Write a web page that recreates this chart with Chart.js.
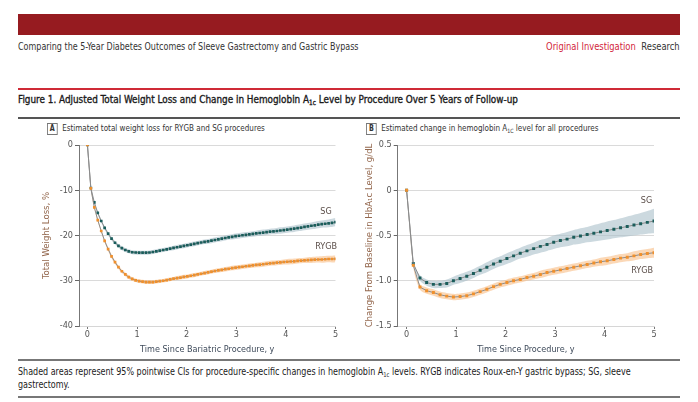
<!DOCTYPE html>
<html><head><meta charset="utf-8">
<script src="https://cdn.jsdelivr.net/npm/chart.js@4.4.1/dist/chart.umd.min.js"></script>
<style>
html,body{margin:0;padding:0;background:#fff;width:698px;height:402px;overflow:hidden;
 font-family:"Liberation Sans Narrow","DejaVu Sans Condensed","Open Sans",sans-serif;}
.abs{position:absolute;white-space:nowrap;}
.sx{transform:scaleX(0.89);transform-origin:0 50%;}
#bar{left:18px;top:14px;width:662px;height:21px;background:#961b20;}
#runhead{left:18px;top:41px;font-size:10px;color:#333;}
#runright{right:18px;top:41px;font-size:10px;color:#333;transform:scaleX(0.93);transform-origin:100% 50%;}
#runright .oi{color:#d21f3c;margin-right:6px;}
#redline{left:18px;top:88px;width:662px;height:2px;background:#cf2a36;}
#figtitle{left:18px;top:93px;font-size:11px;color:#1a1a1a;-webkit-text-stroke:0.35px #1a1a1a;transform:scaleX(0.895);transform-origin:0 50%;}
#darkline{left:18px;top:117px;width:662px;height:2px;background:#555;}
.plab{font-size:9px;color:#333;}
.box{display:inline-block;border:1px solid #777;width:10px;height:10px;line-height:10px;text-align:center;font-weight:bold;font-size:8px;margin-right:5px;}
#foot1{left:18px;top:359px;width:662px;height:2px;background:#777;}
#foottxt{left:18px;top:365px;font-size:10px;color:#222;line-height:13px;}
#foot2{left:18px;top:396px;width:662px;height:2px;background:#777;}
sub{font-size:65%;vertical-align:-2px;line-height:0;}
canvas{position:absolute;}
</style></head>
<body>
<div id="bar" class="abs"></div>
<div id="runhead" class="abs sx">Comparing the 5-Year Diabetes Outcomes of Sleeve Gastrectomy and Gastric Bypass</div>
<div id="runright" class="abs"><span class="oi">Original Investigation</span>Research</div>
<div id="redline" class="abs"></div>
<div id="figtitle" class="abs">Figure 1. Adjusted Total Weight Loss and Change in Hemoglobin A<sub>1c</sub> Level by Procedure Over 5 Years of Follow-up</div>
<div id="darkline" class="abs"></div>
<div class="abs plab sx" style="left:47px;top:123px;"><span class="box">A</span>Estimated total weight loss for RYGB and SG procedures</div>
<div class="abs plab sx" style="left:366px;top:123px;"><span class="box">B</span>Estimated change in hemoglobin A<sub>1C</sub> level for all procedures</div>
<canvas id="cA" width="345" height="225" style="left:0px;top:130px;"></canvas>
<canvas id="cB" width="345" height="225" style="left:350px;top:130px;"></canvas>
<div id="foot1" class="abs"></div>
<div id="foottxt" class="abs sx">Shaded areas represent 95% pointwise CIs for procedure-specific changes in hemoglobin A<sub>1c</sub> levels. RYGB indicates Roux-en-Y gastric bypass; SG, sleeve<br>gastrectomy.</div>
<div id="foot2" class="abs"></div>
<script>
// ---------- data ----------
const xTicks = [0, 1, 2, 3, 4, 5];
const yTicksA = [0, -10, -20, -30, -40];
const yTicksB = [0.5, 0, -0.5, -1, -1.5];
const yTickLabelsB = ['0.5', '0', '-0.5', '-1.0', '-1.5'];
const seriesNames = ['RYGB', 'SG'];

const timesA = [0,0.069,0.139,0.208,0.278,0.347,0.417,0.486,0.556,0.625,0.694,0.764,0.833,0.903,0.972,1.042,1.111,1.181,1.25,1.319,1.389,1.458,1.528,1.597,1.667,1.736,1.806,1.875,1.944,2.014,2.083,2.153,2.222,2.292,2.361,2.431,2.5,2.569,2.639,2.708,2.778,2.847,2.917,2.986,3.056,3.125,3.194,3.264,3.333,3.403,3.472,3.542,3.611,3.681,3.75,3.819,3.889,3.958,4.028,4.097,4.167,4.236,4.306,4.375,4.444,4.514,4.583,4.653,4.722,4.792,4.861,4.931,5];
const weightLossRYGB = [0,-9.6,-13.8,-16.6,-19.0,-21.2,-23.0,-24.6,-25.9,-27.0,-27.9,-28.6,-29.2,-29.6,-29.9,-30.1,-30.2,-30.3,-30.3,-30.3,-30.2,-30.1,-30.0,-29.85,-29.7,-29.55,-29.4,-29.3,-29.15,-29.05,-28.9,-28.75,-28.6,-28.45,-28.3,-28.15,-28.0,-27.85,-27.7,-27.6,-27.45,-27.35,-27.2,-27.1,-27.0,-26.9,-26.8,-26.7,-26.6,-26.5,-26.45,-26.35,-26.25,-26.15,-26.1,-26.0,-25.95,-25.85,-25.8,-25.75,-25.7,-25.6,-25.55,-25.5,-25.45,-25.4,-25.35,-25.3,-25.3,-25.25,-25.2,-25.2,-25.15];
const weightLossSG = [0,-9.5,-12.7,-15.0,-16.8,-18.3,-19.6,-20.7,-21.6,-22.3,-22.8,-23.2,-23.5,-23.7,-23.75,-23.8,-23.8,-23.8,-23.75,-23.65,-23.5,-23.35,-23.2,-23.05,-22.9,-22.75,-22.6,-22.45,-22.3,-22.15,-22.0,-21.85,-21.7,-21.55,-21.4,-21.3,-21.15,-21.0,-20.85,-20.7,-20.55,-20.4,-20.3,-20.15,-20.05,-19.95,-19.85,-19.75,-19.65,-19.55,-19.45,-19.35,-19.25,-19.15,-19.1,-19.0,-18.9,-18.8,-18.7,-18.6,-18.5,-18.35,-18.25,-18.1,-18.0,-17.85,-17.75,-17.6,-17.5,-17.4,-17.3,-17.2,-17.05];
const ciHalfRYGB_A = [0,0.3,0.35,0.35,0.35,0.35,0.4,0.4,0.4,0.4,0.4,0.4,0.4,0.4,0.4,0.4,0.4,0.4,0.4,0.4,0.4,0.4,0.4,0.4,0.4,0.4,0.45,0.45,0.45,0.45,0.45,0.45,0.45,0.45,0.45,0.45,0.45,0.45,0.45,0.45,0.5,0.5,0.5,0.5,0.5,0.5,0.5,0.5,0.5,0.5,0.55,0.55,0.55,0.55,0.55,0.55,0.55,0.55,0.6,0.6,0.6,0.6,0.6,0.6,0.65,0.65,0.65,0.65,0.7,0.7,0.7,0.75,0.75];
const ciHalfSG_A = [0,0.3,0.35,0.35,0.4,0.4,0.4,0.4,0.4,0.4,0.45,0.45,0.45,0.45,0.45,0.45,0.45,0.45,0.45,0.45,0.45,0.45,0.45,0.45,0.45,0.5,0.5,0.5,0.5,0.5,0.5,0.5,0.5,0.5,0.5,0.5,0.55,0.55,0.55,0.55,0.55,0.55,0.6,0.6,0.6,0.6,0.6,0.6,0.6,0.6,0.65,0.65,0.65,0.65,0.65,0.65,0.7,0.7,0.7,0.7,0.7,0.7,0.75,0.75,0.75,0.75,0.8,0.8,0.8,0.85,0.85,0.9,0.9];

const timesB = [0,0.135,0.270,0.405,0.541,0.676,0.811,0.946,1.081,1.216,1.351,1.486,1.622,1.757,1.892,2.027,2.162,2.297,2.432,2.568,2.703,2.838,2.973,3.108,3.243,3.378,3.514,3.649,3.784,3.919,4.054,4.189,4.324,4.459,4.595,4.730,4.865,5];
const hba1cRYGB = [0,-0.83,-1.07,-1.11,-1.13,-1.155,-1.17,-1.18,-1.175,-1.165,-1.145,-1.12,-1.095,-1.065,-1.04,-1.02,-1.0,-0.985,-0.965,-0.95,-0.93,-0.91,-0.895,-0.88,-0.865,-0.85,-0.835,-0.82,-0.805,-0.79,-0.78,-0.765,-0.75,-0.74,-0.725,-0.71,-0.70,-0.69];
const hba1cSG = [0,-0.81,-0.97,-1.02,-1.04,-1.04,-1.03,-1.0,-0.975,-0.95,-0.92,-0.885,-0.85,-0.815,-0.785,-0.755,-0.725,-0.695,-0.67,-0.645,-0.62,-0.6,-0.575,-0.555,-0.54,-0.52,-0.505,-0.49,-0.475,-0.46,-0.445,-0.43,-0.415,-0.4,-0.385,-0.37,-0.355,-0.34];
const ciHalfRYGB_B = [0,0.02,0.03,0.035,0.035,0.035,0.035,0.035,0.035,0.035,0.035,0.035,0.035,0.035,0.035,0.035,0.035,0.035,0.035,0.035,0.04,0.04,0.04,0.04,0.04,0.04,0.04,0.04,0.04,0.045,0.045,0.045,0.045,0.045,0.05,0.05,0.05,0.055];
const ciHalfSG_B = [0,0.02,0.03,0.035,0.04,0.04,0.045,0.045,0.05,0.05,0.05,0.05,0.055,0.055,0.055,0.06,0.06,0.06,0.065,0.065,0.07,0.07,0.075,0.075,0.08,0.08,0.085,0.085,0.09,0.095,0.1,0.1,0.105,0.11,0.115,0.12,0.125,0.135];

// ---------- styling ----------
const FONT = '"Liberation Sans Narrow","DejaVu Sans Condensed","Open Sans",sans-serif';
const TEAL = '#1a5d5b', ORANGE = '#f0902c';
const TEAL_BAND = 'rgba(170,192,202,0.6)', ORANGE_BAND = 'rgba(248,190,135,0.6)';

function pts(t, v) { return t.map((x, i) => ({ x: x, y: v[i] })); }
function band(t, v, h, sign) { return t.map((x, i) => ({ x: x, y: v[i] + sign * (h[i] ?? h[h.length - 1]) })); }

function lineDs(label, t, v, col, r) {
  return { label, data: pts(t, v), borderColor: '#8c8c8c', borderWidth: 1, tension: 0,
    pointStyle: 'rect', pointRadius: r, pointBackgroundColor: col, pointBorderWidth: 0,
    fill: false, order: label === 'RYGB' ? 0 : 1 };
}
function bandDs(t, v, h, col, sign, fill) {
  return { data: band(t, v, h, sign), borderWidth: 0, pointRadius: 0, backgroundColor: col,
    borderColor: 'rgba(0,0,0,0)', fill: fill, order: 5, tension: 0.3 };
}

function labelPlugin(items) {
  return { id: 'seriesLabels', afterDatasetsDraw(chart) {
    const ctx = chart.ctx, xs = chart.scales.x, ys = chart.scales.y;
    ctx.save();
    ctx.font = '9px ' + FONT; ctx.fillStyle = '#5a4d48';
    ctx.textAlign = 'center'; ctx.textBaseline = 'middle';
    items.forEach(it => ctx.fillText(it.text, xs.getPixelForValue(it.x), ys.getPixelForValue(it.y)));
    ctx.restore();
  } };
}

function makeChart(id, cfg) {
  const yW = cfg.yW;
  return new Chart(document.getElementById(id), {
    type: 'line',
    data: { datasets: cfg.datasets },
    options: {
      responsive: false, animation: false, devicePixelRatio: 1,
      layout: { padding: { top: 15, right: cfg.padRight, left: 0, bottom: 0 } },
      plugins: { legend: { display: false }, tooltip: { enabled: false } },
      scales: {
        x: { type: 'linear', min: cfg.xMin, max: 5,
          afterBuildTicks: a => { a.ticks = xTicks.map(v => ({ value: v })); },
          afterFit: s => { s.height = 29; },
          grid: { drawOnChartArea: false, drawTicks: true, tickLength: 3, tickColor: '#777' },
          border: { display: true, color: '#d6d6d6' },
          ticks: { font: { size: 9, family: FONT }, color: '#555', padding: 0, maxRotation: 0 },
          title: { display: true, text: cfg.xTitle, color: '#3e4a5a', font: { size: 9, family: FONT }, padding: { top: 0, bottom: 0 } } },
        y: { type: 'linear', min: cfg.yMin, max: cfg.yMax,
          afterBuildTicks: a => { a.ticks = cfg.yTicks.map(v => ({ value: v })); },
          afterFit: s => { s.width = yW; },
          grid: { color: '#dadada', tickLength: 4, tickColor: '#666' },
          border: { display: true, color: '#777' },
          ticks: { font: { size: 9, family: FONT }, color: '#555', padding: 2, callback: cfg.yCb },
          title: { display: true, text: cfg.yTitle, color: '#94684e', font: { size: 9.5, family: FONT }, padding: { top: cfg.yTitlePad, bottom: 0 } } }
      }
    },
    plugins: [labelPlugin(cfg.labels)]
  });
}

makeChart('cA', {
  yW: 79, padRight: 9.5, xMin: -0.17, yMin: -40, yMax: 0, yTicks: yTicksA, yTitlePad: 41,
  yCb: v => String(v),
  xTitle: 'Time Since Bariatric Procedure, y', yTitle: 'Total Weight Loss, %',
  labels: [{ text: seriesNames[1], x: 4.81, y: -14.8 }, { text: seriesNames[0], x: 4.81, y: -22.4 }],
  datasets: [
    lineDs(seriesNames[0], timesA, weightLossRYGB, ORANGE, 1.9),
    lineDs(seriesNames[1], timesA, weightLossSG, TEAL, 1.9),
    bandDs(timesA, weightLossSG, ciHalfSG_A, TEAL_BAND, 1, '+1'),
    bandDs(timesA, weightLossSG, ciHalfSG_A, TEAL_BAND, -1, false),
    bandDs(timesA, weightLossRYGB, ciHalfRYGB_A, ORANGE_BAND, 1, '+1'),
    bandDs(timesA, weightLossRYGB, ciHalfRYGB_A, ORANGE_BAND, -1, false)
  ]
});

makeChart('cB', {
  yW: 47.7, padRight: 41, xMin: -0.18, yMin: -1.5, yMax: 0.5, yTicks: yTicksB, yTitlePad: 14,
  yCb: (v) => { const i = yTicksB.findIndex(t => Math.abs(t - v) < 1e-9); return i >= 0 ? yTickLabelsB[i] : ''; },
  xTitle: 'Time Since Procedure, y', yTitle: ['Change From Baseline in HbA\u2081\u1D04 Level, g/dL'],
  labels: [{ text: seriesNames[1], x: 4.85, y: -0.118 }, { text: seriesNames[0], x: 4.76, y: -0.886 }],
  datasets: [
    lineDs(seriesNames[0], timesB, hba1cRYGB, ORANGE, 2.1),
    lineDs(seriesNames[1], timesB, hba1cSG, TEAL, 2.1),
    bandDs(timesB, hba1cSG, ciHalfSG_B, TEAL_BAND, 1, '+1'),
    bandDs(timesB, hba1cSG, ciHalfSG_B, TEAL_BAND, -1, false),
    bandDs(timesB, hba1cRYGB, ciHalfRYGB_B, ORANGE_BAND, 1, '+1'),
    bandDs(timesB, hba1cRYGB, ciHalfRYGB_B, ORANGE_BAND, -1, false)
  ]
});
</script>
</body></html>
